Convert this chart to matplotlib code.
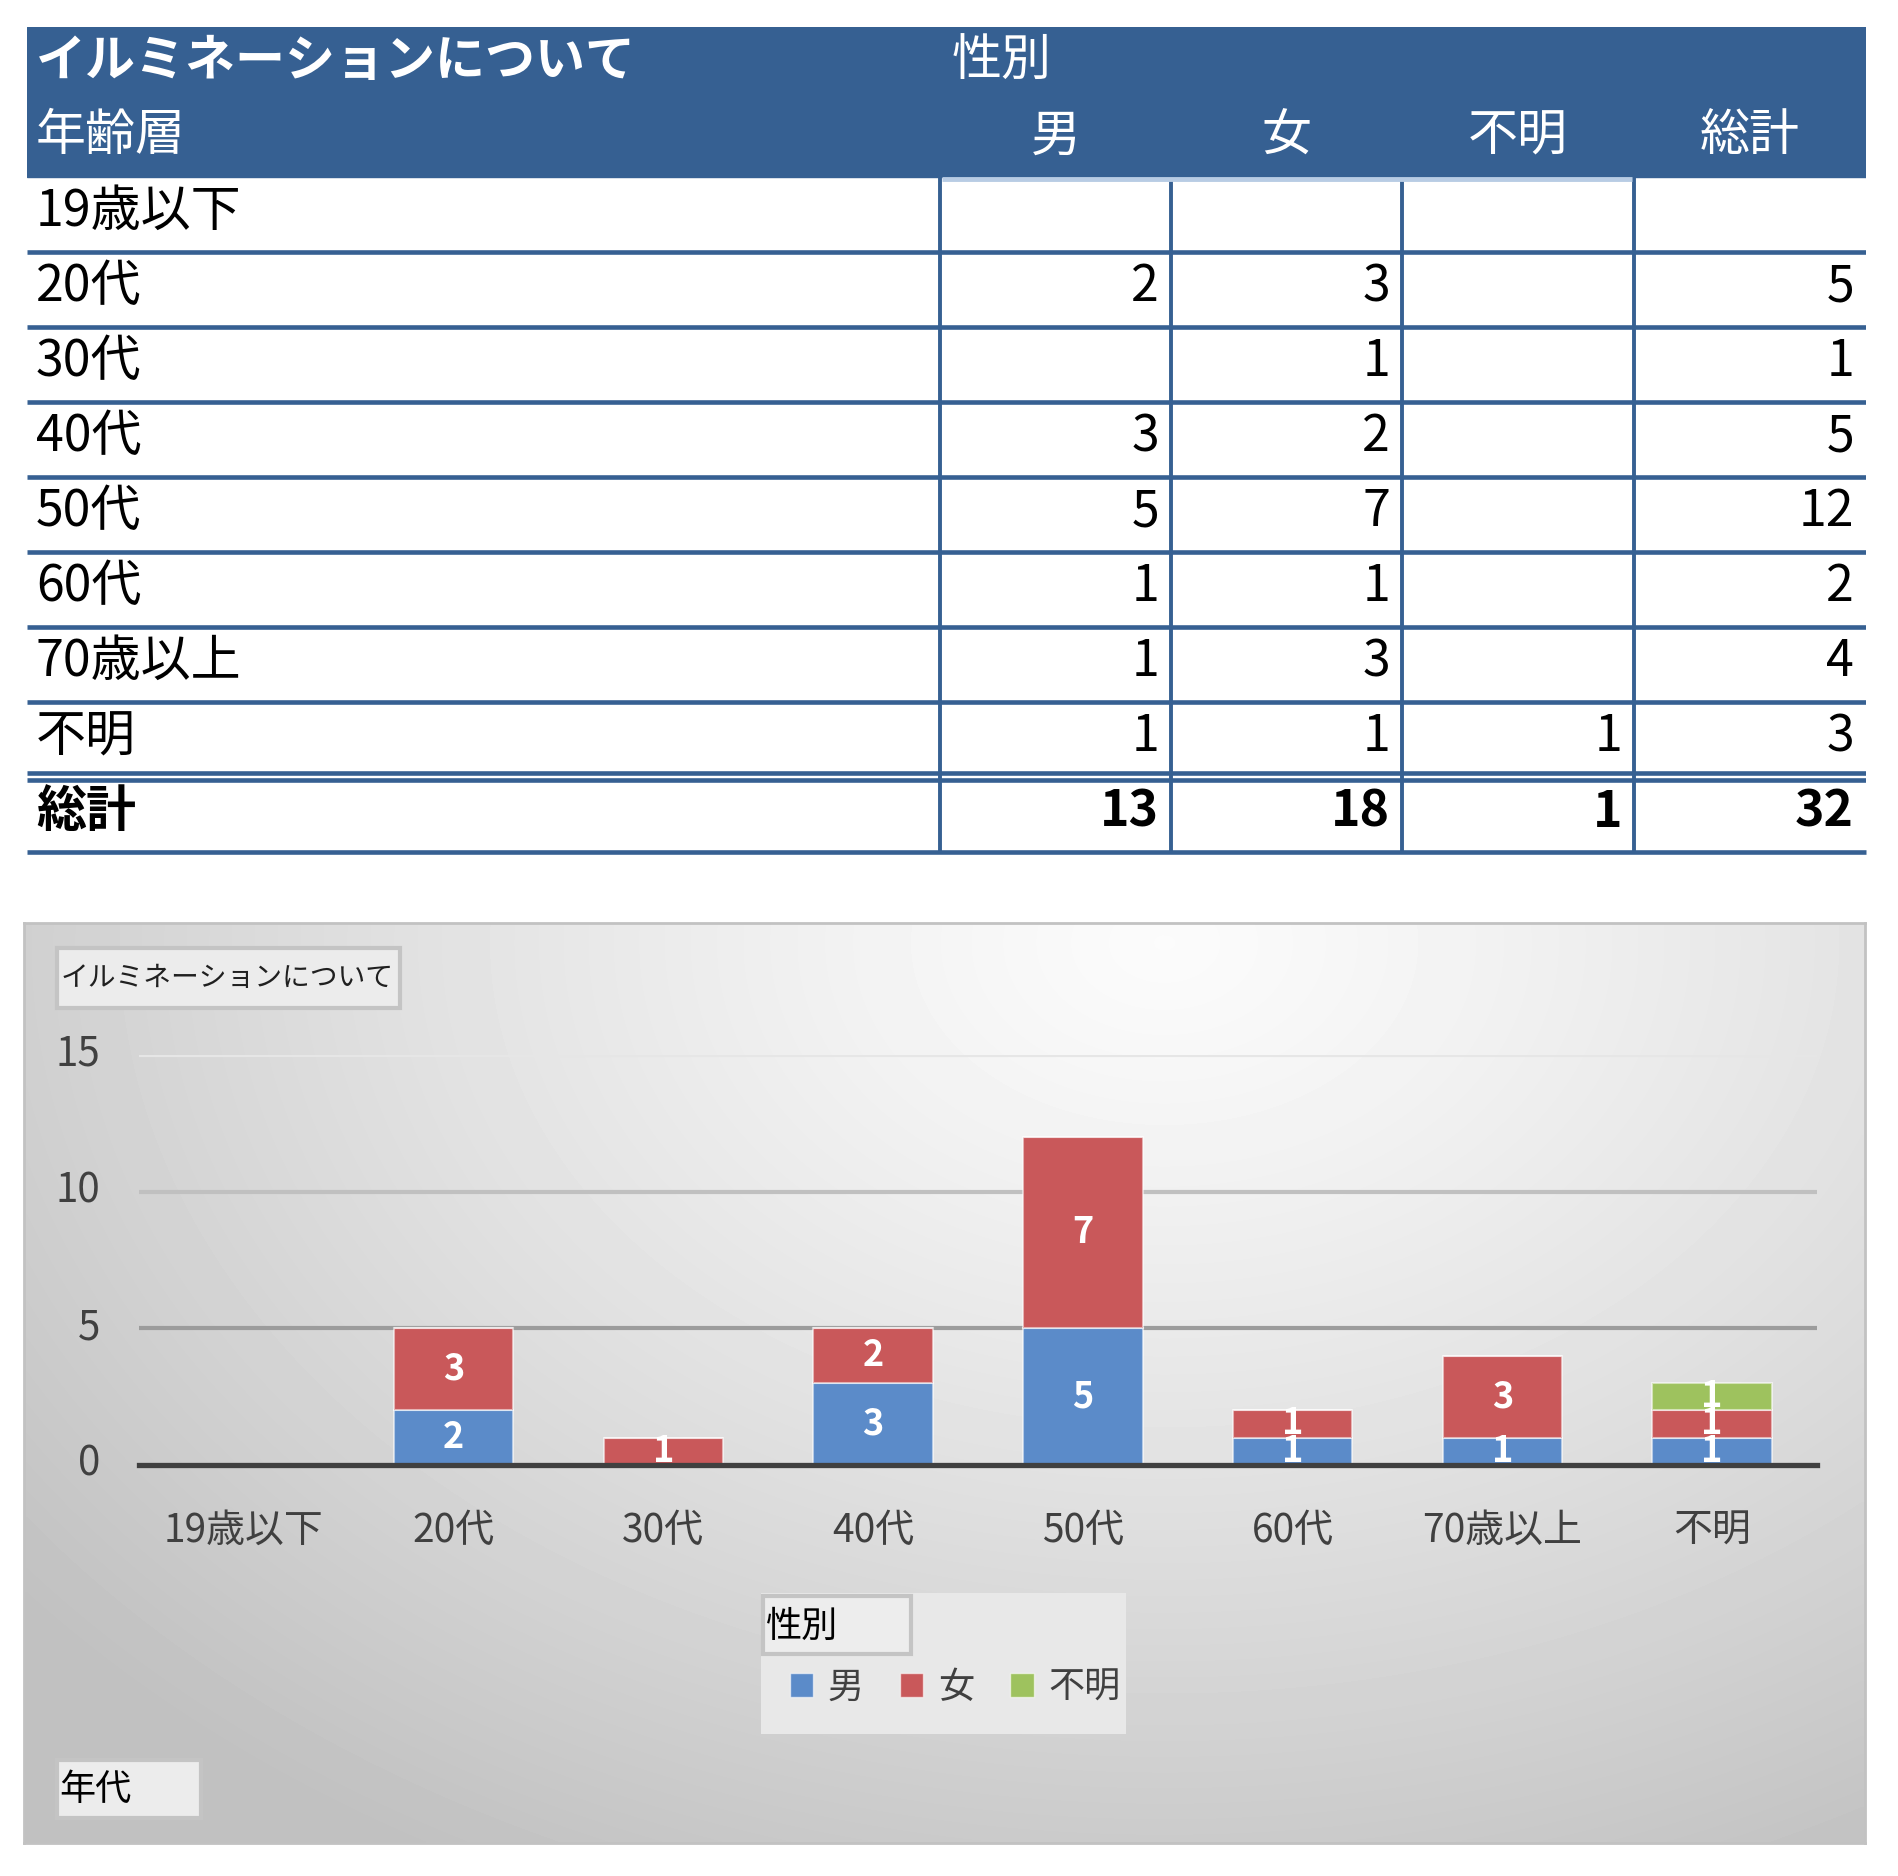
import numpy as np
import matplotlib.pyplot as plt
from matplotlib.patches import Rectangle, Patch
from matplotlib.transforms import ScaledTranslation

plt.rcParams['font.family'] = ['Noto Sans CJK JP', 'DejaVu Sans']

# data
ages = ['19歳以下', '20代', '30代', '40代', '50代', '60代', '70歳以上', '不明']
male = [0, 2, 0, 3, 5, 1, 1, 1]
female = [0, 3, 1, 2, 7, 1, 3, 1]
unknown = [0, 0, 0, 0, 0, 0, 0, 1]
genders = ['男', '女', '不明']
table_title = 'イルミネーションについて'
col_title = '性別'
row_title = '年齢層'
total_label = '総計'
axis_title = '年代'
yticks = [0, 5, 10, 15]

BLUE = '#366092'
LIGHT = '#b8cce4'
bar_colors = ['#5b8bc9', '#c9585a', '#9ec25e']

W, H = 1899, 1876
fig = plt.figure(figsize=(W / 100, H / 100), dpi=100)


def fx(x):
    return x / W


def fy(y):
    return 1 - y / H


def box(x0, y0, x1, y1, **kw):
    r = Rectangle((fx(x0), fy(y1)), fx(x1) - fx(x0), (y1 - y0) / H,
                  transform=fig.transFigure, zorder=2, **kw)
    fig.add_artist(r)
    return r


# ---------------- table ----------------
ax_t = fig.add_axes([fx(27), fy(852), fx(1866) - fx(27), (852 - 27) / H])
col_edges = [0, 913, 1144, 1375, 1607, 1839]
ax_t.set_xlim(0, 1839)
ax_t.set_ylim(11, 0)
ax_t.axis('off')

ax_t.add_patch(Rectangle((0, 0), 1839, 2, color=BLUE, zorder=1))
ax_t.text(9, 0.46, table_title, color='white', fontsize=36, fontweight='bold',
          ha='left', va='center')
ax_t.text(col_edges[1] + 12, 0.46, col_title, color='white', fontsize=36,
          ha='left', va='center')
ax_t.text(9, 1.46, row_title, color='white', fontsize=36, ha='left', va='center')
for j, name in enumerate(genders + [total_label]):
    ax_t.text((col_edges[j + 1] + col_edges[j + 2]) / 2, 1.46, name,
              color='white', fontsize=36, ha='center', va='center')

series = [male, female, unknown]
for i, age in enumerate(ages):
    r = 2 + i + 0.47
    ax_t.text(9, r, age, fontsize=36, ha='left', va='center')
    for j, s in enumerate(series):
        if s[i]:
            ax_t.text(col_edges[j + 2] - 12, r, str(s[i]), fontsize=36,
                      ha='right', va='center')
    tot = male[i] + female[i] + unknown[i]
    if tot:
        ax_t.text(col_edges[5] - 12, r, str(tot), fontsize=36, ha='right', va='center')

r = 10.47
ax_t.text(9, r, total_label, fontsize=36, fontweight='bold', ha='left', va='center')
totals = [sum(s) for s in series] + [sum(male) + sum(female) + sum(unknown)]
for j, v in enumerate(totals):
    ax_t.text(col_edges[j + 2] - 12, r, str(v), fontsize=36, fontweight='bold',
              ha='right', va='center')

lw = 3.3
for k in range(3, 10):
    ax_t.plot([0, 1839], [k, k], color=BLUE, lw=lw, solid_capstyle='butt')
ax_t.plot([0, 1839], [9.95, 9.95], color=BLUE, lw=lw, solid_capstyle='butt')
ax_t.plot([0, 1839], [10.04, 10.04], color=BLUE, lw=lw, solid_capstyle='butt')
ax_t.plot([0, 1839], [11, 11], color=BLUE, lw=lw, solid_capstyle='butt', clip_on=False)
for e in col_edges[1:5]:
    ax_t.plot([e, e], [2, 11], color=BLUE, lw=2.8, solid_capstyle='butt', clip_on=False)
ax_t.plot([col_edges[1] + 2, col_edges[4] - 2], [2.03, 2.03], color=LIGHT, lw=3.5,
          solid_capstyle='butt', zorder=3)

# ---------------- chart background ----------------
bg = fig.add_axes([fx(24), fy(1843), (1865 - 24) / W, (1843 - 923) / H])
bg.set_zorder(-1)
gx, gy = np.meshgrid(np.linspace(0, 1, 300), np.linspace(0, 1, 300))
d = np.sqrt(((gx - 0.62) / 0.8) ** 2 + ((gy - 0.02) / 1.15) ** 2)
val = 0.985 - 0.23 * np.clip(d, 0, 1) ** 1.2
bg.imshow(val, cmap='gray', vmin=0, vmax=1, extent=[0, 1, 0, 1], aspect='auto',
          origin='upper', interpolation='bilinear')
bg.set_xticks([])
bg.set_yticks([])
for s in bg.spines.values():
    s.set_color('#c2c2c2')
    s.set_linewidth(2)

# ---------------- bar chart ----------------
ax = fig.add_axes([fx(139), fy(1465), (1817 - 139) / W, (1465 - 1055) / H])
ax.set_facecolor('none')
x = np.arange(len(ages))
m = np.array(male)
f = np.array(female)
u = np.array(unknown)
bw = 0.57
ek = dict(edgecolor=(1, 1, 1, 0.55), linewidth=1.5, zorder=3)
b1 = ax.bar(x, m, bw, color=bar_colors[0], **ek)
b2 = ax.bar(x, f, bw, bottom=m, color=bar_colors[1], **ek)
b3 = ax.bar(x, u, bw, bottom=m + f, color=bar_colors[2], **ek)
for b, vals in zip([b1, b2, b3], [m, f, u]):
    ax.bar_label(b, labels=[str(v) if v else '' for v in vals], label_type='center',
                 color='white', fontsize=26, fontweight='bold', zorder=6)

ax.set_xlim(-0.5, len(ages) - 0.5)
ax.set_ylim(0, 15)
ax.set_yticks(yticks)
ax.set_xticks(x)
ax.set_xticklabels(ages)
ax.tick_params(axis='y', length=0, pad=28, labelsize=29, labelcolor='#404040')
ax.tick_params(axis='x', length=0, pad=33, labelsize=28, labelcolor='#404040')
up = ScaledTranslation(0, 5 / 100, fig.dpi_scale_trans)
for t in ax.get_yticklabels():
    t.set_transform(t.get_transform() + up)
ax.set_axisbelow(True)
ax.yaxis.grid(True)
for gl, c in zip(ax.get_ygridlines(), ['none', '#9c9c9c', '#c0c0c0', '#e6e6e6']):
    gl.set_color(c)
    gl.set_linewidth(3)
for s in ['left', 'right', 'top']:
    ax.spines[s].set_visible(False)
ax.spines['bottom'].set_color('#404040')
ax.spines['bottom'].set_linewidth(3.8)
ax.spines['bottom'].set_zorder(5)

# buttons
box(57, 948, 400, 1008, facecolor='#ececec', edgecolor='#c4c4c4', linewidth=3)
fig.text(fx(61), fy(978), table_title, fontsize=20, ha='left', va='center',
         color='#202020', zorder=3)

box(761, 1593, 1126, 1734, facecolor='#e8e8e8', edgecolor='none')
box(763, 1596, 911, 1654, facecolor='#ededed', edgecolor='#c4c4c4', linewidth=3)
fig.text(fx(766), fy(1627), col_title, fontsize=26, ha='left', va='center',
         color='black', zorder=3)
handles = [Patch(facecolor=c, edgecolor=(1, 1, 1, 0.6)) for c in bar_colors]
leg = fig.legend(handles, genders, loc='center', bbox_to_anchor=(fx(955), fy(1688)),
                 ncol=3, frameon=False, fontsize=26,
                 handlelength=0.65, handleheight=0.65, handletextpad=0.4,
                 columnspacing=1.0, labelcolor='#404040')
leg.set_zorder(4)

box(57, 1760, 201, 1818, facecolor='#ececec', edgecolor='#c4c4c4', linewidth=3)
fig.text(fx(59), fy(1790), axis_title, fontsize=26, ha='left', va='center',
         color='black', zorder=3)

fig.savefig('out.png', dpi=100)
